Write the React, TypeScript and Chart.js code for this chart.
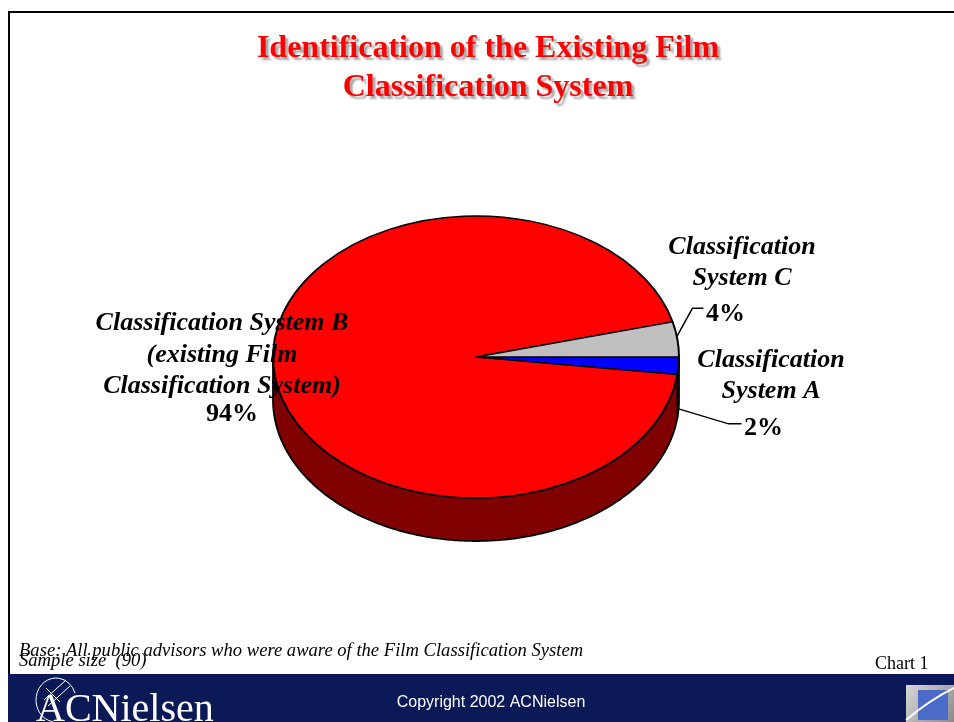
import React, { useEffect, useRef } from 'react';
import { Chart, registerables } from 'chart.js';

Chart.register(...registerables);

// ---- data ----
const categories = [
  'Classification System A',
  'Classification System B (existing Film Classification System)',
  'Classification System C',
];
const values = [2, 94, 4];
const labelLines = [
  ['Classification', 'System A'],
  ['Classification System B', '(existing Film', 'Classification System)'],
  ['Classification', 'System C'],
];
const topColors = ['#0000FF', '#FF0000', '#C0C0C0'];
const sideColors = ['#000080', '#800000', '#808080'];
const titleLines = ['Identification of the Existing Film', 'Classification System'];
const baseNote = 'Base: All public advisors who were aware of the Film Classification System';
const sampleNote = 'Sample size  (90)';
const chartNo = 'Chart 1';
const copyright = 'Copyright 2002 ACNielsen';
const brand = 'ACNielsen';

// ---- geometry / style ----
const W = 954;
const H = 722;
const K = 141 / 203; // vertical squash for the 3D tilt
const DEPTH = 43;
const NAVY = '#0b1a57';
const SERIF = '"Liberation Serif", "Times New Roman", serif';
const SANS = '"Liberation Sans", Arial, sans-serif';

function ellPt(cx: number, cy: number, R: number, t: number) {
  return { x: cx + R * Math.cos(t), y: cy + R * K * Math.sin(t) };
}

const pie3d = {
  id: 'pie3d',
  beforeDatasetsDraw(chart: any) {
    const ctx = chart.ctx as CanvasRenderingContext2D;
    const els = chart.getDatasetMeta(0).data as any[];
    if (!els.length) return;
    const cx = els[0].x, cy = els[0].y, R = els[0].outerRadius;
    els.forEach((el: any, i: number) => {
      const s = el.startAngle, e = el.endAngle;
      for (let n = -1; n <= 1; n++) {
        const a = Math.max(s, 2 * Math.PI * n);
        const b = Math.min(e, 2 * Math.PI * n + Math.PI);
        if (b <= a) continue;
        const steps = Math.max(2, Math.ceil((b - a) / 0.01));
        ctx.save();
        ctx.beginPath();
        for (let j = 0; j <= steps; j++) {
          const p = ellPt(cx, cy, R, a + ((b - a) * j) / steps);
          if (j === 0) ctx.moveTo(p.x, p.y); else ctx.lineTo(p.x, p.y);
        }
        for (let j = steps; j >= 0; j--) {
          const p = ellPt(cx, cy, R, a + ((b - a) * j) / steps);
          ctx.lineTo(p.x, p.y + DEPTH);
        }
        ctx.closePath();
        ctx.fillStyle = sideColors[i];
        ctx.fill();
        ctx.lineWidth = 1.8;
        ctx.strokeStyle = '#000';
        ctx.lineJoin = 'round';
        ctx.stroke();
        ctx.restore();
      }
    });
    ctx.save();
    ctx.translate(cx, cy);
    ctx.scale(1, K);
    ctx.translate(-cx, -cy);
  },
  afterDatasetsDraw(chart: any) {
    const ctx = chart.ctx as CanvasRenderingContext2D;
    const els = chart.getDatasetMeta(0).data as any[];
    if (!els.length) return;
    ctx.restore();
    const cx = els[0].x, cy = els[0].y, R = els[0].outerRadius;
    const mid = (el: any) => (el.startAngle + el.endAngle) / 2;

    ctx.save();
    ctx.strokeStyle = '#000';
    ctx.lineWidth = 1.5;
    // leader for C (index 2)
    const pc = ellPt(cx, cy, R, mid(els[2]));
    ctx.beginPath();
    ctx.moveTo(pc.x - 1, pc.y - 2);
    ctx.lineTo(pc.x + 15, pc.y - 31);
    ctx.lineTo(pc.x + 26, pc.y - 31);
    ctx.stroke();
    // leader for A (index 0)
    const pa = ellPt(cx, cy, R, mid(els[0]));
    ctx.beginPath();
    ctx.moveTo(pa.x, pa.y + DEPTH);
    ctx.lineTo(pa.x + 50, pa.y + DEPTH + 15);
    ctx.lineTo(pa.x + 63, pa.y + DEPTH + 15);
    ctx.stroke();

    ctx.fillStyle = '#000';
    ctx.textBaseline = 'alphabetic';
    const ital = `italic bold 26px ${SERIF}`;
    const bold = `bold 26px ${SERIF}`;
    // B label
    ctx.font = ital;
    ctx.textAlign = 'center';
    const bY = [330, 362, 393];
    labelLines[1].forEach((l, k) => ctx.fillText(l, 222, bY[k]));
    ctx.font = bold;
    ctx.fillText(`${values[1]}%`, 232, 421);
    // C label
    ctx.font = ital;
    const cY = [254, 285];
    labelLines[2].forEach((l, k) => ctx.fillText(l, 742, cY[k]));
    ctx.font = bold;
    ctx.textAlign = 'left';
    ctx.fillText(`${values[2]}%`, 706, 321);
    // A label
    ctx.font = ital;
    ctx.textAlign = 'center';
    const aY = [367, 398];
    labelLines[0].forEach((l, k) => ctx.fillText(l, 771, aY[k]));
    ctx.font = bold;
    ctx.textAlign = 'left';
    ctx.fillText(`${values[0]}%`, 744, 435);
    ctx.restore();
  },
};

const decor = {
  id: 'decor',
  beforeDraw(chart: any) {
    const ctx = chart.ctx as CanvasRenderingContext2D;
    ctx.save();
    ctx.fillStyle = '#fff';
    ctx.fillRect(0, 0, W, H);
    ctx.fillStyle = NAVY;
    ctx.fillRect(8, 674, W - 8, H - 674);
    ctx.fillStyle = '#000';
    ctx.fillRect(8, 11, W - 8, 2);
    ctx.fillRect(8, 11, 2, 663);

    // title
    ctx.font = `bold 32px ${SERIF}`;
    ctx.textAlign = 'center';
    ctx.textBaseline = 'alphabetic';
    ctx.shadowColor = 'rgba(0,0,0,0.35)';
    ctx.shadowOffsetX = 3;
    ctx.shadowOffsetY = 3;
    ctx.shadowBlur = 2;
    ctx.fillStyle = '#FF0000';
    ctx.fillText(titleLines[0], 488, 57);
    ctx.fillText(titleLines[1], 488, 96);
    ctx.restore();

    // notes
    ctx.save();
    ctx.fillStyle = '#000';
    ctx.textAlign = 'left';
    ctx.font = `italic 18.6px ${SERIF}`;
    ctx.fillText(baseNote, 19, 656);
    ctx.fillText(sampleNote, 19, 666);
    ctx.font = `18px ${SERIF}`;
    ctx.fillText(chartNo, 875, 669);

    // footer
    ctx.fillStyle = '#fff';
    ctx.font = `16px ${SANS}`;
    ctx.textAlign = 'center';
    ctx.fillText(copyright, 491, 707);
    ctx.textAlign = 'left';
    ctx.font = `40px ${SERIF}`;
    ctx.fillText(brand, 36, 721);
    // globe strokes
    ctx.strokeStyle = '#fff';
    ctx.lineWidth = 1;
    ctx.beginPath();
    ctx.ellipse(56, 700, 20, 22, 0, Math.PI * 0.55, Math.PI * 1.9);
    ctx.stroke();
    ctx.beginPath();
    ctx.moveTo(44, 700); ctx.lineTo(66, 680);
    ctx.moveTo(48, 706); ctx.lineTo(70, 686);
    ctx.moveTo(46, 688); ctx.lineTo(60, 702);
    ctx.stroke();
    // right icon
    const g = ctx.createLinearGradient(905, 685, 954, 722);
    g.addColorStop(0, '#d8d8d8');
    g.addColorStop(1, '#8a8a8a');
    ctx.fillStyle = g;
    ctx.fillRect(906, 685, 48, 37);
    ctx.fillStyle = '#4a6cc8';
    ctx.fillRect(918, 690, 30, 30);
    ctx.strokeStyle = '#fff';
    ctx.lineWidth = 2;
    ctx.beginPath();
    ctx.moveTo(906, 720);
    ctx.quadraticCurveTo(930, 700, 954, 688);
    ctx.stroke();
    ctx.restore();
  },
};

export default function App() {
  const ref = useRef<HTMLCanvasElement | null>(null);
  useEffect(() => {
    if (!ref.current) return;
    const chart = new Chart(ref.current, {
      type: 'pie',
      data: {
        labels: categories,
        datasets: [
          {
            data: values,
            backgroundColor: topColors,
            borderColor: '#000',
            borderWidth: 2,
            clip: false,
          } as any,
        ],
      },
      options: {
        responsive: false,
        animation: false,
        events: [],
        rotation: 90,
        radius: 203,
        layout: { padding: { left: 0, right: 2, top: 0, bottom: 8 } },
        plugins: {
          legend: { display: false },
          tooltip: { enabled: false },
          title: { display: false },
        },
      } as any,
      plugins: [decor, pie3d],
    });
    return () => chart.destroy();
  }, []);
  return (
    <div style={{ position: 'fixed', left: 0, top: 0, width: W, height: H }}>
      <canvas ref={ref} width={W} height={H} style={{ display: 'block', width: W, height: H }} />
    </div>
  );
}
